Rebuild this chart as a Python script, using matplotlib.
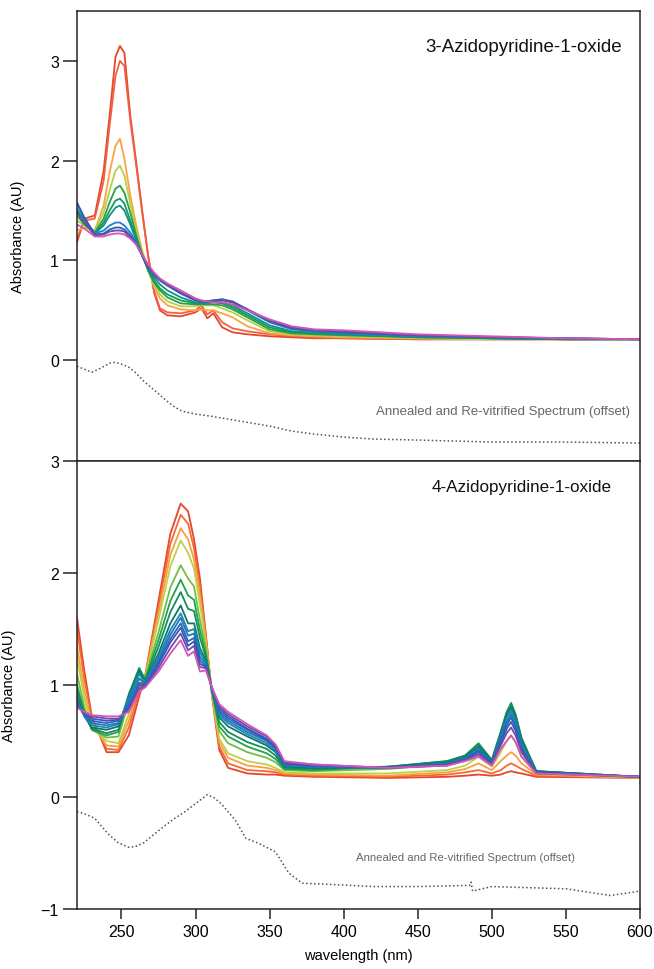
import numpy as np
import matplotlib
matplotlib.use("Agg")
import matplotlib.pyplot as plt

plt.rcParams['font.family'] = ['Liberation Sans', 'DejaVu Sans']

# ---- 3-Azidopyridine-1-oxide (top panel) ----
wl3 = [220, 225, 232, 238, 242, 246, 249, 252, 256, 260, 264, 268, 272, 276, 281,
       290, 300, 304, 308, 312, 318, 325, 335, 350, 365, 380, 400, 450, 500, 550, 600]

t_red1 = [1.18, 1.42, 1.45, 1.90, 2.45, 3.04, 3.15, 3.08, 2.45, 1.98, 1.50, 1.05, 0.68, 0.50, 0.45,
          0.44, 0.48, 0.52, 0.42, 0.47, 0.33, 0.28, 0.26, 0.24, 0.23, 0.22, 0.22, 0.21, 0.21, 0.21, 0.21]
t_red2 = [1.22, 1.40, 1.42, 1.80, 2.35, 2.85, 3.00, 2.95, 2.40, 1.95, 1.48, 1.05, 0.70, 0.52, 0.48,
          0.47, 0.50, 0.55, 0.46, 0.50, 0.38, 0.32, 0.29, 0.26, 0.24, 0.23, 0.22, 0.21, 0.21, 0.21, 0.21]
t_orange = [1.30, 1.33, 1.30, 1.55, 1.88, 2.15, 2.22, 2.02, 1.65, 1.35, 1.10, 0.90, 0.74, 0.62, 0.55,
            0.51, 0.50, 0.51, 0.50, 0.50, 0.47, 0.43, 0.34, 0.27, 0.25, 0.24, 0.23, 0.22, 0.21, 0.21, 0.21]
t_yellow = [1.40, 1.35, 1.30, 1.48, 1.70, 1.90, 1.95, 1.85, 1.57, 1.30, 1.08, 0.90, 0.76, 0.66, 0.59,
            0.54, 0.54, 0.55, 0.55, 0.55, 0.52, 0.48, 0.40, 0.29, 0.26, 0.25, 0.24, 0.22, 0.21, 0.21, 0.21]
t_green1 = [1.45, 1.36, 1.28, 1.42, 1.58, 1.72, 1.75, 1.68, 1.48, 1.25, 1.06, 0.90, 0.78, 0.70, 0.63,
            0.57, 0.56, 0.56, 0.56, 0.56, 0.55, 0.51, 0.43, 0.31, 0.27, 0.26, 0.25, 0.23, 0.22, 0.21, 0.21]
t_green2 = [1.50, 1.38, 1.27, 1.38, 1.50, 1.60, 1.62, 1.57, 1.40, 1.22, 1.05, 0.91, 0.80, 0.72, 0.66,
            0.60, 0.57, 0.57, 0.57, 0.58, 0.57, 0.53, 0.45, 0.33, 0.28, 0.27, 0.26, 0.23, 0.22, 0.21, 0.21]
t_teal = [1.52, 1.40, 1.27, 1.35, 1.45, 1.53, 1.55, 1.50, 1.36, 1.20, 1.05, 0.92, 0.83, 0.76, 0.70,
          0.63, 0.58, 0.58, 0.58, 0.59, 0.58, 0.55, 0.47, 0.35, 0.29, 0.28, 0.26, 0.24, 0.22, 0.21, 0.21]
t_blue1 = [1.57, 1.42, 1.27, 1.30, 1.35, 1.38, 1.38, 1.35, 1.28, 1.18, 1.05, 0.93, 0.85, 0.80, 0.75,
           0.67, 0.60, 0.59, 0.59, 0.60, 0.61, 0.58, 0.50, 0.38, 0.31, 0.29, 0.27, 0.24, 0.23, 0.22, 0.21]
t_blue2 = [1.58, 1.43, 1.26, 1.27, 1.31, 1.33, 1.33, 1.31, 1.25, 1.17, 1.05, 0.93, 0.86, 0.80, 0.75,
           0.67, 0.60, 0.59, 0.59, 0.60, 0.61, 0.59, 0.51, 0.39, 0.32, 0.30, 0.28, 0.25, 0.23, 0.22, 0.21]
t_purple = [1.48, 1.38, 1.25, 1.26, 1.29, 1.30, 1.30, 1.29, 1.23, 1.16, 1.05, 0.94, 0.87, 0.81, 0.76,
            0.68, 0.61, 0.59, 0.59, 0.59, 0.60, 0.58, 0.51, 0.40, 0.33, 0.30, 0.29, 0.25, 0.23, 0.22, 0.21]
t_magenta = [1.36, 1.32, 1.24, 1.24, 1.26, 1.27, 1.27, 1.26, 1.22, 1.16, 1.06, 0.96, 0.88, 0.82, 0.77,
             0.70, 0.62, 0.60, 0.59, 0.58, 0.58, 0.56, 0.50, 0.41, 0.34, 0.31, 0.30, 0.26, 0.24, 0.22, 0.21]

top_colors = ['#e8452e', '#ef6040', '#f8a444', '#b9cf45', '#25a045', '#13995e',
              '#12908a', '#1f80c8', '#2c5fb0', '#6a4aa8', '#d455b5']

wl3_anneal = [220, 225, 230, 236, 242, 246, 250, 255, 260, 265, 273, 280, 286, 291, 300,
              310, 330, 350, 365, 380, 400, 420, 450, 500, 550, 600]
anneal3 = [-0.06, -0.09, -0.12, -0.08, -0.03, -0.02, -0.04, -0.07, -0.13, -0.21, -0.31, -0.40,
           -0.47, -0.51, -0.54, -0.56, -0.61, -0.66, -0.71, -0.74, -0.77, -0.79, -0.80, -0.82,
           -0.82, -0.83]

# ---- 4-Azidopyridine-1-oxide (bottom panel) ----
wl4 = [220, 225, 230, 240, 248, 255, 262, 266, 275, 283, 290, 295, 299, 303, 307, 311, 316,
       322, 335, 348, 354, 360, 380, 430, 470, 482, 491, 500, 506, 510, 513, 516, 520, 530, 600]

b_01 = [1.60, 1.12, 0.72, 0.40, 0.40, 0.55, 0.90, 1.08, 1.75, 2.35, 2.62, 2.55, 2.30, 1.95, 1.45, 0.92, 0.42,
        0.26, 0.21, 0.20, 0.20, 0.19, 0.18, 0.17, 0.18, 0.19, 0.20, 0.19, 0.20, 0.22, 0.23, 0.22, 0.21, 0.18, 0.17]
b_02 = [1.50, 1.05, 0.70, 0.43, 0.42, 0.62, 0.95, 1.08, 1.70, 2.26, 2.52, 2.44, 2.22, 1.88, 1.43, 0.93, 0.45,
        0.30, 0.24, 0.23, 0.22, 0.20, 0.19, 0.18, 0.20, 0.22, 0.24, 0.21, 0.24, 0.28, 0.30, 0.28, 0.25, 0.19, 0.17]
b_03 = [1.35, 0.95, 0.66, 0.46, 0.45, 0.68, 1.00, 1.07, 1.64, 2.16, 2.40, 2.30, 2.12, 1.80, 1.40, 0.93, 0.49,
        0.35, 0.28, 0.26, 0.24, 0.21, 0.20, 0.19, 0.22, 0.25, 0.30, 0.24, 0.32, 0.37, 0.40, 0.37, 0.30, 0.20, 0.17]
b_04 = [1.25, 0.88, 0.62, 0.50, 0.48, 0.74, 1.05, 1.07, 1.58, 2.06, 2.29, 2.18, 2.04, 1.72, 1.37, 0.94, 0.52,
        0.39, 0.32, 0.29, 0.26, 0.22, 0.21, 0.21, 0.24, 0.28, 0.36, 0.27, 0.40, 0.50, 0.55, 0.49, 0.36, 0.21, 0.17]
b_05 = [1.10, 0.80, 0.60, 0.53, 0.54, 0.85, 1.12, 1.06, 1.47, 1.87, 2.07, 1.95, 1.88, 1.58, 1.32, 0.95, 0.59,
        0.48, 0.40, 0.35, 0.31, 0.24, 0.23, 0.25, 0.29, 0.34, 0.44, 0.31, 0.52, 0.66, 0.72, 0.64, 0.46, 0.22, 0.17]
b_06 = [1.00, 0.76, 0.60, 0.55, 0.58, 0.90, 1.15, 1.05, 1.40, 1.75, 1.94, 1.80, 1.76, 1.49, 1.28, 0.95, 0.63,
        0.54, 0.45, 0.39, 0.34, 0.25, 0.24, 0.27, 0.32, 0.37, 0.48, 0.33, 0.58, 0.75, 0.82, 0.73, 0.52, 0.23, 0.18]
b_07 = [0.95, 0.74, 0.61, 0.57, 0.60, 0.92, 1.15, 1.04, 1.34, 1.65, 1.83, 1.68, 1.66, 1.42, 1.25, 0.96, 0.67,
        0.58, 0.49, 0.43, 0.37, 0.26, 0.25, 0.27, 0.32, 0.37, 0.47, 0.33, 0.58, 0.76, 0.84, 0.74, 0.53, 0.23, 0.18]
b_08 = [0.90, 0.72, 0.62, 0.60, 0.63, 0.90, 1.12, 1.03, 1.28, 1.55, 1.71, 1.55, 1.55, 1.33, 1.22, 0.96, 0.71,
        0.63, 0.54, 0.46, 0.40, 0.27, 0.26, 0.27, 0.31, 0.36, 0.45, 0.32, 0.56, 0.73, 0.80, 0.71, 0.50, 0.23, 0.18]
b_09 = [0.86, 0.72, 0.64, 0.62, 0.65, 0.88, 1.10, 1.02, 1.25, 1.49, 1.64, 1.48, 1.50, 1.29, 1.20, 0.97, 0.73,
        0.66, 0.56, 0.48, 0.41, 0.28, 0.27, 0.26, 0.30, 0.35, 0.43, 0.31, 0.54, 0.70, 0.77, 0.68, 0.48, 0.22, 0.18]
b_10 = [0.84, 0.73, 0.66, 0.64, 0.66, 0.85, 1.06, 1.01, 1.22, 1.45, 1.60, 1.44, 1.46, 1.25, 1.19, 0.97, 0.75,
        0.68, 0.58, 0.50, 0.43, 0.29, 0.27, 0.26, 0.30, 0.34, 0.42, 0.31, 0.52, 0.67, 0.74, 0.65, 0.46, 0.22, 0.18]
b_11 = [0.82, 0.74, 0.68, 0.66, 0.68, 0.82, 1.02, 1.00, 1.20, 1.41, 1.55, 1.39, 1.42, 1.22, 1.17, 0.97, 0.77,
        0.70, 0.60, 0.51, 0.44, 0.29, 0.28, 0.26, 0.29, 0.34, 0.41, 0.30, 0.50, 0.64, 0.71, 0.62, 0.44, 0.22, 0.18]
b_12 = [0.81, 0.75, 0.70, 0.68, 0.69, 0.80, 1.00, 0.99, 1.18, 1.38, 1.51, 1.35, 1.39, 1.19, 1.16, 0.98, 0.79,
        0.72, 0.61, 0.52, 0.45, 0.30, 0.28, 0.26, 0.29, 0.33, 0.40, 0.30, 0.48, 0.61, 0.67, 0.59, 0.42, 0.22, 0.18]
b_13 = [0.80, 0.76, 0.72, 0.70, 0.70, 0.78, 0.97, 0.98, 1.15, 1.33, 1.46, 1.31, 1.35, 1.16, 1.15, 0.98, 0.81,
        0.74, 0.63, 0.54, 0.46, 0.31, 0.29, 0.26, 0.28, 0.33, 0.38, 0.29, 0.46, 0.57, 0.62, 0.55, 0.40, 0.21, 0.18]
b_14 = [0.80, 0.76, 0.73, 0.72, 0.72, 0.76, 0.94, 0.98, 1.12, 1.28, 1.40, 1.26, 1.30, 1.12, 1.13, 0.98, 0.83,
        0.76, 0.65, 0.55, 0.47, 0.32, 0.29, 0.26, 0.28, 0.32, 0.36, 0.28, 0.43, 0.50, 0.55, 0.49, 0.36, 0.21, 0.18]

bottom_colors = ['#e8432c', '#f26a30', '#f8a040', '#c0cf45', '#6fbf45', '#22a24a', '#138f5e',
                 '#0f7570', '#1a8aa8', '#1d76c4', '#2a66bc', '#3e57b4', '#6a4cae', '#d455b5']

wl4_anneal = [220, 225, 232, 241, 248, 255, 260, 265, 277, 285, 293, 300, 308, 313, 318, 327,
              334, 342, 354, 363, 372, 390, 420, 450, 485, 486, 487, 500, 550, 580, 600]
anneal4 = [-0.13, -0.15, -0.19, -0.33, -0.41, -0.45, -0.44, -0.41, -0.28, -0.20, -0.13, -0.06,
           0.02, -0.01, -0.07, -0.21, -0.37, -0.41, -0.49, -0.68, -0.77, -0.78, -0.80, -0.80,
           -0.79, -0.76, -0.84, -0.80, -0.82, -0.88, -0.84]

top_spectra = [t_red1, t_red2, t_orange, t_yellow, t_green1, t_green2, t_teal,
               t_blue1, t_blue2, t_purple, t_magenta]
bottom_spectra = [b_01, b_02, b_03, b_04, b_05, b_06, b_07, b_08, b_09, b_10, b_11, b_12, b_13, b_14]

fig = plt.figure(figsize=(6.54, 9.70), dpi=100)
ax1 = fig.add_axes([0.1177, 0.5237, 0.8609, 0.4639])
ax2 = fig.add_axes([0.1177, 0.0619, 0.8609, 0.4618])

spine_col = '#2a2222'
for ax in (ax1, ax2):
    for s in ax.spines.values():
        s.set_linewidth(1.1)
        s.set_color(spine_col)
    ax.set_xlim(220, 600)
    ax.tick_params(axis='y', direction='out', length=10, width=1.1, labelsize=11.5,
                   color=spine_col, pad=3)
    ax.set_ylabel('Absorbance (AU)', fontsize=10.5, labelpad=18)

for spec, col in zip(top_spectra, top_colors):
    ax1.plot(wl3, spec, color=col, lw=1.3)
ax1.plot(wl3_anneal, anneal3, color='#3d5a60', lw=1.1, ls=(0, (1, 1.6)))
ax1.set_ylim(-1.01, 3.5)
ax1.set_yticks([0, 1, 2, 3])
ax1.set_xticks([])
ax1.text(0.968, 0.922, '3-Azidopyridine-1-oxide', transform=ax1.transAxes,
         fontsize=13.5, ha='right', va='center', color='#111111')
ax1.text(0.982, 0.111, 'Annealed and Re-vitrified Spectrum (offset)', transform=ax1.transAxes,
         fontsize=9.5, ha='right', va='center', color='#666666')

for spec, col in zip(bottom_spectra, bottom_colors):
    ax2.plot(wl4, spec, color=col, lw=1.3)
ax2.plot(wl4_anneal, anneal4, color='#3d5a60', lw=1.1, ls=(0, (1, 1.6)))
ax2.set_ylim(-1, 3)
ax2.set_yticks([-1, 0, 1, 2, 3])
ax2.set_xticks([250, 300, 350, 400, 450, 500, 550, 600])
ax2.tick_params(axis='x', direction='out', length=7, width=1.1, labelsize=11.5,
                color=spine_col, pad=4)
ax2.set_xlabel('wavelength (nm)', fontsize=10.5, labelpad=6)
ax2.text(0.950, 0.942, '4-Azidopyridine-1-oxide', transform=ax2.transAxes,
         fontsize=12.3, ha='right', va='center', color='#111111')
ax2.text(0.885, 0.116, 'Annealed and Re-vitrified Spectrum (offset)', transform=ax2.transAxes,
         fontsize=8.2, ha='right', va='center', color='#666666')

fig.savefig('out.png', dpi=100)
